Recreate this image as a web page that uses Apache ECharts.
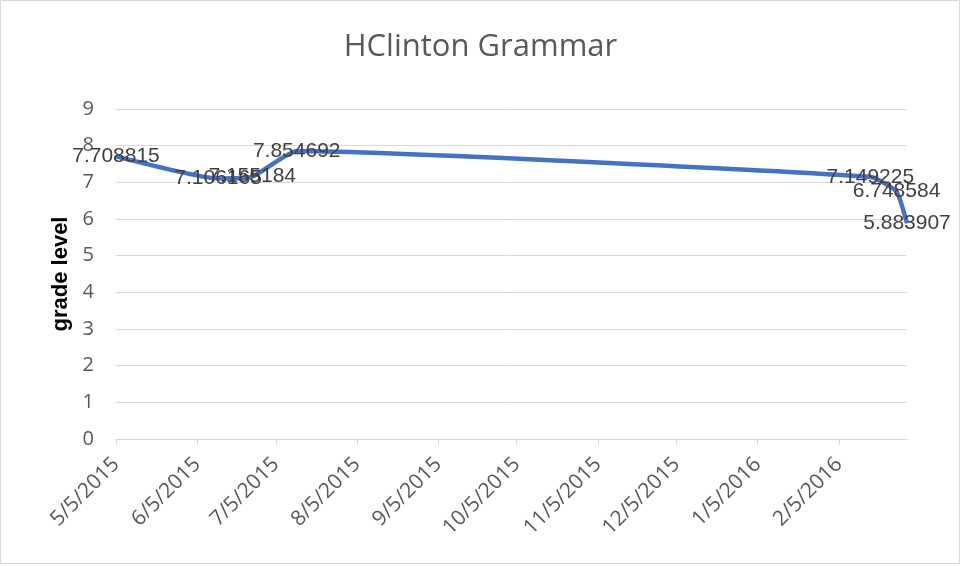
<!DOCTYPE html>
<html>
<head>
<meta charset="utf-8">
<script src="https://cdn.jsdelivr.net/npm/echarts@6/dist/echarts.min.js"></script>
<style>
html, body { margin: 0; padding: 0; background: #fff; }
#chart1 { width: 961px; height: 566px; }
</style>
</head>
<body>
<div id="chart1"></div>
<script>
// data
var dates = ['2015-05-05', '2015-06-13', '2015-06-26', '2015-07-13', '2016-02-17', '2016-02-27', '2016-03-02'];
var grades = [7.708815, 7.106165, 7.155184, 7.854692, 7.149225, 6.748584, 5.883907];
var tickDates = ['2015-05-05', '2015-06-05', '2015-07-05', '2015-08-05', '2015-09-05', '2015-10-05',
                 '2015-11-05', '2015-12-05', '2016-01-05', '2016-02-05'];
var axisMin = '2015-05-05';
var axisMax = '2016-03-02';

function ts(s) {
    var p = s.split('-');
    return Date.UTC(+p[0], +p[1] - 1, +p[2]);
}

var points = dates.map(function (d, i) { return [ts(d), grades[i]]; });
var ticks = tickDates.map(ts);

var myChart = echarts.init(document.getElementById('chart1'));

myChart.setOption({
    animation: false,
    title: {
        text: 'HClinton Grammar',
        left: 'center',
        top: 27,
        textStyle: {
            fontFamily: 'Open Sans',
            fontSize: 31,
            fontWeight: 'normal',
            color: '#595959'
        }
    },
    graphic: [{
        type: 'rect',
        shape: { x: 0.5, y: 0.5, width: 959, height: 563 },
        style: { fill: 'none', stroke: '#d9d9d9', lineWidth: 1 },
        silent: true
    }],
    grid: { left: 116, right: 54, top: 109, bottom: 127 },
    xAxis: {
        type: 'value',
        min: ts(axisMin),
        max: ts(axisMax),
        axisLine: { show: true, lineStyle: { color: '#d9d9d9', width: 1 } },
        axisTick: {
            show: true,
            customValues: ticks,
            length: 6,
            lineStyle: { color: '#d9d9d9' }
        },
        axisLabel: {
            customValues: ticks,
            rotate: 45,
            margin: 22,
            color: '#595959',
            fontFamily: 'Open Sans',
            fontSize: 21,
            formatter: function (v) {
                var d = new Date(v);
                return (d.getUTCMonth() + 1) + '/' + d.getUTCDate() + '/' + d.getUTCFullYear();
            }
        },
        splitLine: { show: false }
    },
    yAxis: {
        type: 'value',
        min: 0,
        max: 9,
        interval: 1,
        name: 'grade level',
        nameLocation: 'middle',
        nameGap: 42,
        nameTextStyle: {
            fontFamily: 'Liberation Sans',
            fontSize: 22,
            fontWeight: 'bold',
            color: '#000'
        },
        axisLine: { show: false },
        axisTick: { show: false },
        axisLabel: {
            margin: 22,
            color: '#595959',
            fontFamily: 'Open Sans',
            fontSize: 20
        },
        splitLine: { lineStyle: { color: '#d9d9d9', width: 1 } }
    },
    series: [{
        name: 'grade level',
        type: 'line',
        data: points,
        smooth: 0.15,
        showSymbol: true,
        symbol: 'circle',
        symbolSize: 1,
        itemStyle: { color: 'rgba(0,0,0,0)' },
        lineStyle: { color: '#4472c4', width: 4.5 },
        label: {
            show: true,
            position: 'inside',
            color: '#404040',
            fontFamily: 'Liberation Sans',
            fontSize: 21,
            formatter: function (p) { return String(p.value[1]); }
        }
    }]
});
</script>
</body>
</html>
